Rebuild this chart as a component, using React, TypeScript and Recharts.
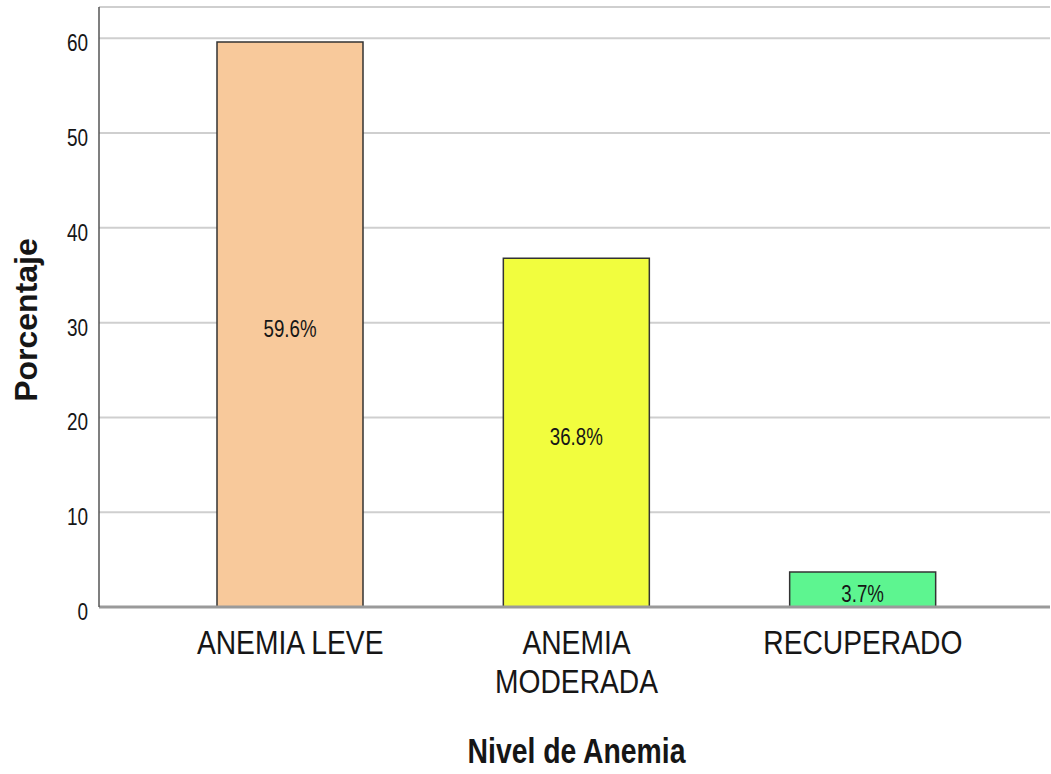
import React from 'react';
import { BarChart, Bar, XAxis, YAxis, CartesianGrid, Cell, LabelList, Label } from 'recharts';

const categories = ['ANEMIA LEVE', 'ANEMIA MODERADA', 'RECUPERADO'];
const percentages = [59.6, 36.8, 3.7];
const barColors = ['#F8C99B', '#F1FD3E', '#5DF590'];
const yTicks = [0, 10, 20, 30, 40, 50, 60];

const data = categories.map((name, i) => ({ name, value: percentages[i] }));

const FONT = "'Liberation Sans', Arial, sans-serif";
const INK = '#161616';

// the original uses a condensed face, so squeeze plain Arial-like glyphs horizontally
const NarrowText = ({ x, y, sx = 0.78, rotate = 0, children, ...rest }: any) => (
  <g transform={`translate(${x},${y}) rotate(${rotate}) scale(${sx},1)`}>
    <text x={0} y={0} fontFamily={FONT} fill={INK} {...rest}>
      {children}
    </text>
  </g>
);

const CategoryTick = (props: any) => {
  const { x, y, payload } = props;
  const text: string = payload.value;
  const lines = text.length > 12 ? text.split(' ') : [text];
  return (
    <g>
      {lines.map((line, i) => (
        <NarrowText key={i} x={x} y={y + 39 + i * 39} sx={0.83} fontSize={34} textAnchor="middle">
          {line}
        </NarrowText>
      ))}
    </g>
  );
};

const ValueTick = (props: any) => {
  const { x, y, payload } = props;
  return (
    <NarrowText x={x} y={y + 13} sx={0.79} fontSize={24} textAnchor="end">
      {payload.value}
    </NarrowText>
  );
};

const BarValue = (props: any) => {
  const { x, y, width, height, value } = props;
  return (
    <NarrowText x={x + width / 2} y={y + height / 2 + 12.5} sx={0.78} fontSize={24} textAnchor="middle">
      {`${Number(value).toFixed(1)}%`}
    </NarrowText>
  );
};

const XTitle = (props: any) => {
  const { x, y, width, height } = props.viewBox;
  return (
    <NarrowText x={x + width / 2 + 2} y={y + height - 11} sx={0.81} fontSize={35} fontWeight="bold" textAnchor="middle">
      Nivel de Anemia
    </NarrowText>
  );
};

const YTitle = (props: any) => {
  const { y, height } = props.viewBox;
  return (
    <NarrowText x={37} y={y + height / 2 + 13} sx={1} rotate={-90} fontSize={32} fontWeight="bold" textAnchor="middle">
      Porcentaje
    </NarrowText>
  );
};

const App: React.FC = () => {
  return (
    <div style={{ position: 'absolute', left: 0, top: 0, background: '#fff' }}>
      <BarChart
        width={1051}
        height={774}
        data={data}
        margin={{ top: 7, right: 1, left: 0, bottom: 0 }}
      >
        <CartesianGrid vertical={false} stroke="#cfcfcf" strokeWidth={2} />
        <XAxis
          dataKey="name"
          height={167}
          padding={{ left: 48, right: 44 }}
          tick={<CategoryTick />}
          tickLine={false}
          axisLine={{ stroke: '#9a9a9a', strokeWidth: 3 }}
          interval={0}
        >
          <Label content={<XTitle />} />
        </XAxis>
        <YAxis
          width={99}
          domain={[0, 63.3]}
          ticks={yTicks}
          tickLine={false}
          tickMargin={5}
          axisLine={{ stroke: '#555', strokeWidth: 1.5 }}
          tick={<ValueTick />}
        >
          <Label content={<YTitle />} />
        </YAxis>
        <Bar dataKey="value" barSize={146} stroke="#333" strokeWidth={1.5} isAnimationActive={false}>
          {data.map((d, i) => (
            <Cell key={d.name} fill={barColors[i]} />
          ))}
          <LabelList dataKey="value" content={<BarValue />} />
        </Bar>
      </BarChart>
    </div>
  );
};

export default App;
